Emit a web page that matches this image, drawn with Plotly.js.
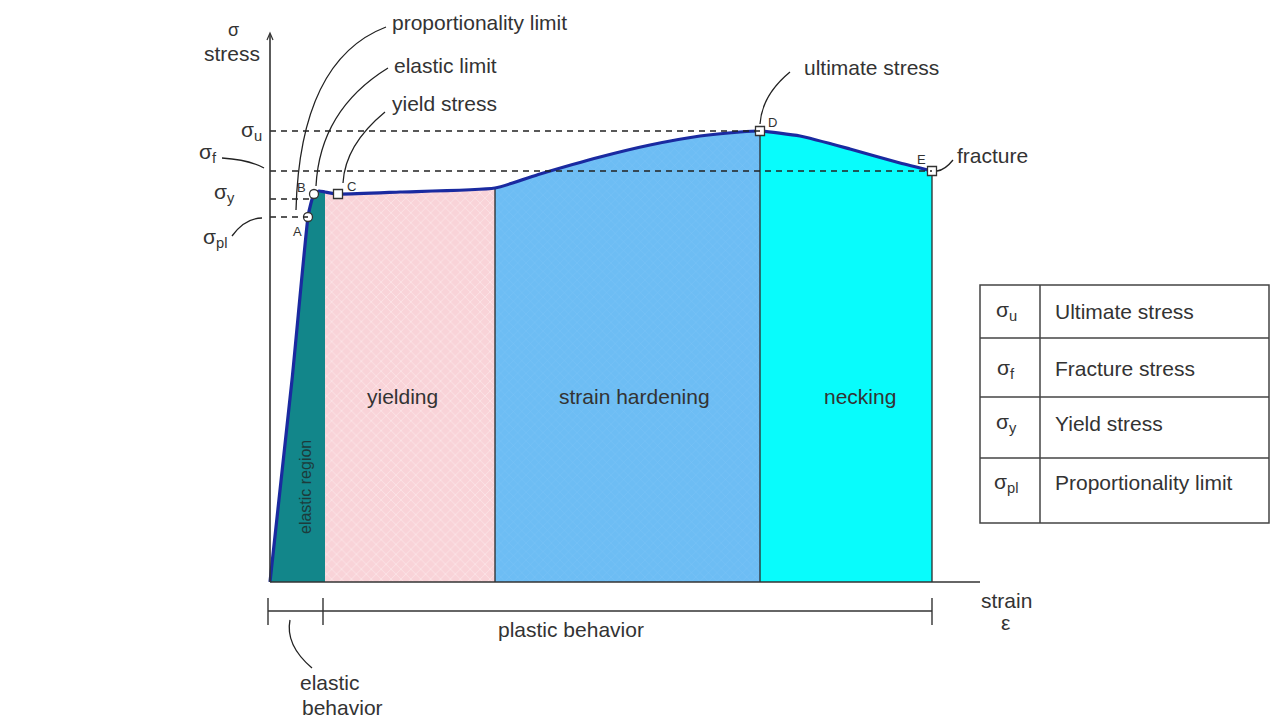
<!DOCTYPE html>
<html>
<head>
<meta charset="utf-8">
<script src="https://cdn.plot.ly/plotly-3.0.1.min.js"></script>
<style>html,body{margin:0;padding:0;background:#fff}#chart{width:1280px;height:720px}</style>
</head>
<body>
<div id="chart"></div>
<script>
// ---- data (strain in %, stress in arbitrary units) ----
const strain = [0, 1.1, 1.9, 2.05, 2.2, 2.45, 2.75, 3.4, 6.5, 11.25, 13.5, 16.5, 19, 21.5, 23.5, 24.5, 26.5, 29, 31.5, 33.1];
const stress = [0, 202, 365, 379, 388, 391, 390, 388, 390, 394, 408, 425, 437, 446, 450, 451, 446, 433, 419, 411];

const regionNames = ["elastic region", "yielding", "strain hardening", "necking"];
const regionBounds = [0, 2.75, 11.25, 24.5, 33.1];
const regionColors = ["#12868a", "#f9d3d8", "#6dbdf4", "#08fcfc"];

const pointLabels = ["A", "B", "C", "D", "E"];
const pointStrain = [1.9, 2.2, 3.4, 24.5, 33.1];
const pointStress = [365, 388, 388, 451, 411];
const pointSymbols = ["circle", "circle", "square", "square", "square"];

const levelNames = ["σ<sub>u</sub>", "σ<sub>f</sub>", "σ<sub>y</sub>", "σ<sub>pl</sub>"];
const levelStress = [451, 411, 383, 365];
const levelEnd = [24.5, 33.1, 1.95, 1.9];

const tableSymbols = ["σ<sub>u</sub>", "σ<sub>f</sub>", "σ<sub>y</sub>", "σ<sub>pl</sub>"];
const tableTexts = ["Ultimate stress", "Fracture stress", "Yield stress", "Proportionality limit"];

// ---- helpers ----
const W = 1280, H = 720;
const P = (px, py) => [px / W, 1 - py / H];
const FONT = "Liberation Sans, Arial, sans-serif";
const TXT = "#333333";

function regionPoly(a, b) {
  const xs = [a], ys = [0];
  for (let i = 0; i < strain.length; i++) {
    if (strain[i] >= a && strain[i] <= b) { xs.push(strain[i]); ys.push(stress[i]); }
  }
  xs.push(b); ys.push(0);
  return [xs, ys];
}

const traces = [];
for (let r = 0; r < regionNames.length; r++) {
  const [xs, ys] = regionPoly(regionBounds[r], regionBounds[r + 1]);
  const t = {
    type: "scatter", mode: "lines", x: xs, y: ys, fill: "toself",
    fillcolor: regionColors[r], line: {width: 0}, hoverinfo: "skip", showlegend: false
  };
  if (r === 1) t.fillpattern = {shape: "x", fgcolor: "#fdeef0", bgcolor: regionColors[r], size: 7, solidity: 0.15};
  if (r === 2) t.fillpattern = {shape: "x", fgcolor: "#82c8f6", bgcolor: regionColors[r], size: 6, solidity: 0.1};
  traces.push(t);
}
// region dividers
for (let r = 2; r < regionBounds.length; r++) {
  const b = regionBounds[r];
  const idx = strain.indexOf(b);
  traces.push({type: "scatter", mode: "lines", x: [b, b], y: [0, stress[idx]],
    line: {color: "#2a2a2a", width: 1.3}, hoverinfo: "skip", showlegend: false});
}
// stress-strain curve
traces.push({type: "scatter", mode: "lines", x: strain, y: stress,
  line: {color: "#1a2aa0", width: 3.2, shape: "spline", smoothing: 0.5}, hoverinfo: "skip", showlegend: false});
// key points
traces.push({type: "scatter", mode: "markers", x: pointStrain, y: pointStress,
  marker: {symbol: pointSymbols, size: 9, color: "#ffffff", line: {color: "#333", width: 1.3}},
  hoverinfo: "skip", showlegend: false});

const shapes = [];
const annotations = [];

// dashed stress levels
for (let i = 0; i < levelStress.length; i++) {
  shapes.push({type: "line", xref: "x", yref: "y", x0: 0, x1: levelEnd[i], y0: levelStress[i], y1: levelStress[i],
    line: {color: "#222", width: 1.4, dash: "6px,5px"}, layer: "above"});
}

// axes
shapes.push({type: "line", xref: "x", yref: "y", x0: 0, x1: 0, y0: 0, y1: 548, line: {color: "#333", width: 1.6}});
shapes.push({type: "line", xref: "x", yref: "y", x0: 0, x1: 35.5, y0: 0, y1: 0, line: {color: "#333", width: 1.6}});
shapes.push({type: "path", xref: "paper", yref: "paper",
  path: `M ${P(267,40).join(" ")} L ${P(270,33).join(" ")} L ${P(273,40).join(" ")}`, line: {color: "#333", width: 1.2}});

// dimension line (elastic / plastic behaviour)
const dimY0 = P(0, 598)[1], dimY1 = P(0, 625)[1], dimY = P(0, 611)[1];
shapes.push({type: "line", xref: "x", yref: "paper", x0: -0.1, x1: 33.1, y0: dimY, y1: dimY, line: {color: "#333", width: 1.4}});
[-0.1, 2.65, 33.1].forEach(v => shapes.push({type: "line", xref: "x", yref: "paper", x0: v, x1: v, y0: dimY0, y1: dimY1, line: {color: "#333", width: 1.4}}));

// leader curves
function curve(p0, c, p1) {
  return {type: "path", xref: "paper", yref: "paper",
    path: `M ${P(...p0).join(" ")} Q ${P(...c).join(" ")} ${P(...p1).join(" ")}`,
    line: {color: "#222", width: 1.3}};
}
shapes.push(curve([386, 27], [300, 60], [296, 210]));
shapes.push(curve([388, 68], [320, 110], [316, 186]));
shapes.push(curve([385, 112], [345, 145], [343, 183]));
shapes.push(curve([790, 72], [762, 95], [760, 124]));
shapes.push(curve([953, 160], [945, 170], [937, 171]));
shapes.push(curve([222, 158], [250, 160], [264, 168]));
shapes.push(curve([232, 236], [245, 218], [262, 218]));
shapes.push(curve([290, 620], [285, 645], [312, 668]));

// table
const tx0 = 980, tx1 = 1269, tcol = 1040;
const rowsY = [285, 338, 397, 458, 523];
shapes.push({type: "rect", xref: "paper", yref: "paper", x0: P(tx0,0)[0], x1: P(tx1,0)[0], y0: P(0,rowsY[0])[1], y1: P(0,rowsY[4])[1], line: {color: "#444", width: 1.5}});
shapes.push({type: "line", xref: "paper", yref: "paper", x0: P(tcol,0)[0], x1: P(tcol,0)[0], y0: P(0,rowsY[0])[1], y1: P(0,rowsY[4])[1], line: {color: "#444", width: 1.5}});
for (let i = 1; i < 4; i++) {
  shapes.push({type: "line", xref: "paper", yref: "paper", x0: P(tx0,0)[0], x1: P(tx1,0)[0], y0: P(0,rowsY[i])[1], y1: P(0,rowsY[i])[1], line: {color: "#444", width: 1.5}});
}
const rowTextY = [311, 369, 423, 483];
for (let i = 0; i < tableTexts.length; i++) {
  annotations.push({xref: "paper", yref: "paper", x: P(1006,0)[0], y: P(0,rowTextY[i])[1], text: tableSymbols[i], showarrow: false,
    font: {family: FONT, size: 21, color: TXT}, xanchor: "center", yanchor: "middle"});
  annotations.push({xref: "paper", yref: "paper", x: P(1053,0)[0], y: P(0,rowTextY[i])[1], text: tableTexts[i], showarrow: false,
    font: {family: FONT, size: 21, color: TXT}, xanchor: "left", yanchor: "middle"});
}

// text labels
function txt(px, py, text, opts = {}) {
  annotations.push(Object.assign({xref: "paper", yref: "paper", x: P(px,py)[0], y: P(px,py)[1], text: text, showarrow: false,
    font: {family: FONT, size: 21, color: TXT}, xanchor: "center", yanchor: "middle"}, opts));
}
txt(390, 22, "proportionality limit", {xanchor: "left"});
txt(392, 65, "elastic limit", {xanchor: "left"});
txt(390, 104, "yield stress", {xanchor: "left"});
txt(802, 67, "ultimate stress", {xanchor: "left"});
txt(955, 155, "fracture", {xanchor: "left"});
txt(233, 30, "σ", {font: {family: FONT, size: 18, color: TXT}});
txt(232, 54, "stress");
txt(1006, 600, "strain");
txt(1005, 622, "ε");
txt(571, 629, "plastic behavior");
txt(330, 682, "elastic");
txt(342, 707, "behavior");
// stress level labels
const levelLabelPos = [[251, 131], [208, 153], [224, 193], [215, 238]];
for (let i = 0; i < levelNames.length; i++) txt(levelLabelPos[i][0], levelLabelPos[i][1], levelNames[i]);

// region labels inside the fills
const regionLabelStrain = [1.75, 6.6, 18.2, 29.5];
for (let r = 0; r < regionNames.length; r++) {
  if (r === 0) {
    annotations.push({xref: "x", yref: "y", x: regionLabelStrain[r], y: 95, text: regionNames[r], textangle: -90, showarrow: false,
      font: {family: FONT, size: 16, color: "#1d3b3b"}});
  } else {
    annotations.push({xref: "x", yref: "y", x: regionLabelStrain[r], y: 186, text: regionNames[r], showarrow: false,
      font: {family: FONT, size: 21, color: TXT}});
  }
}
// point letters
const letterOffsets = [[-11, -14], [-13, 7], [13, 8], [12, 9], [-11, 12]];
for (let i = 0; i < pointLabels.length; i++) {
  annotations.push({xref: "x", yref: "y", x: pointStrain[i], y: pointStress[i], text: pointLabels[i], showarrow: false,
    xshift: letterOffsets[i][0], yshift: letterOffsets[i][1], font: {family: FONT, size: 13, color: "#333"}});
}

const layout = {
  width: W, height: H,
  margin: {l: 0, r: 0, t: 0, b: 0},
  paper_bgcolor: "#ffffff", plot_bgcolor: "#ffffff",
  xaxis: {range: [-13.5, 50.5], visible: false, fixedrange: true},
  yaxis: {range: [-138, 582], visible: false, fixedrange: true},
  shapes: shapes, annotations: annotations, showlegend: false
};
Plotly.newPlot("chart", traces, layout, {displayModeBar: false, staticPlot: true});
</script>
</body>
</html>
